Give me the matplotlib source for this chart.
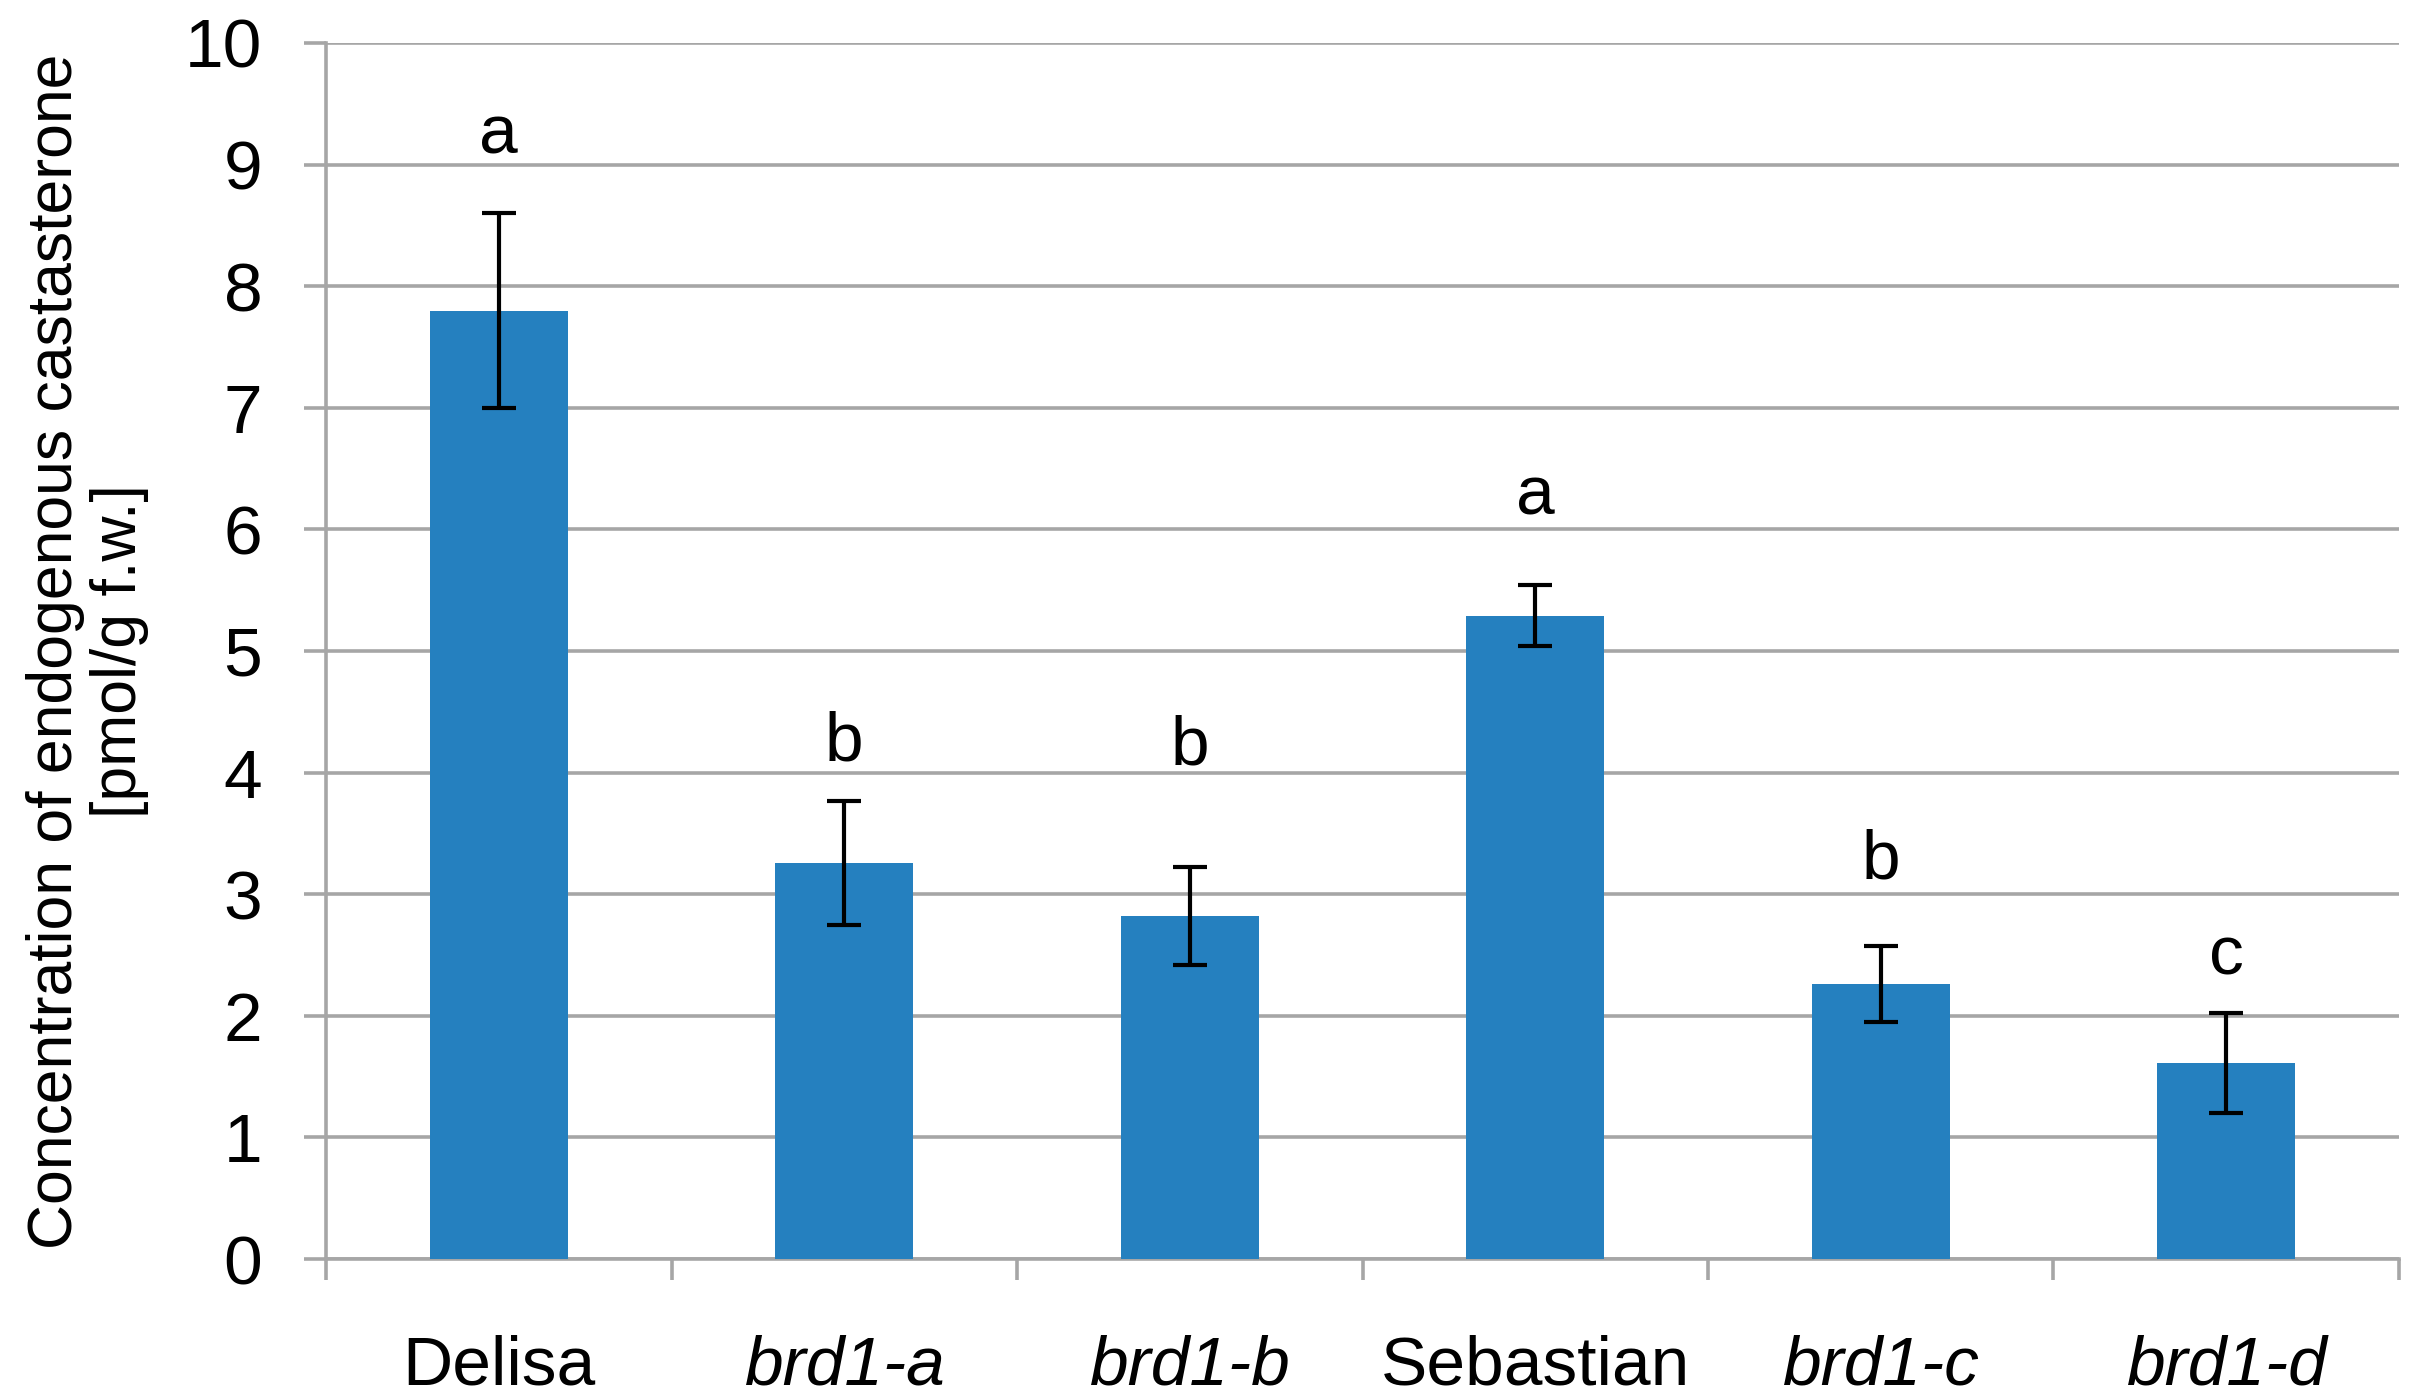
import numpy as np
import matplotlib
matplotlib.use('Agg')
import matplotlib.pyplot as plt

######################### DATA #########################
genotypes = ['Delisa', 'brd1-a', 'brd1-b', 'Sebastian', 'brd1-c', 'brd1-d']
italic = [False, True, True, False, True, True]
castasterone = [7.8, 3.26, 2.82, 5.29, 2.26, 1.61]
errors = [0.80, 0.51, 0.40, 0.25, 0.31, 0.41]
letters = ['a', 'b', 'b', 'a', 'b', 'c']
letter_y = [9.09, 4.10, 4.07, 6.12, 3.13, 2.34]
yticks = list(range(0, 11))

######################### STYLE #########################
plt.rcParams['font.family'] = ['Liberation Sans', 'DejaVu Sans']
barColor = '#2580bf'
gridColor = '#a6a6a6'
sizeOfFont = 50

fig = plt.figure(figsize=(24.12, 14), dpi=100)
ax = fig.add_axes([0.1352, 0.1007, 0.8594, 0.8686])

x = np.arange(len(genotypes))
ax.bar(x, castasterone, width=0.4, color=barColor, zorder=3)
ax.errorbar(x, castasterone, yerr=errors, fmt='none', ecolor='black',
            elinewidth=3, capsize=12, capthick=3, zorder=4)

for xi, lab, ly in zip(x, letters, letter_y):
    ax.text(xi, ly, lab, ha='center', va='baseline', fontsize=sizeOfFont, zorder=5)

ax.set_xlim(-0.5, len(genotypes) - 0.5)
ax.set_ylim(0, 10)
ax.set_yticks(yticks)
ax.yaxis.grid(True, color=gridColor, linewidth=2.6, zorder=0)
ax.set_axisbelow(True)

ax.tick_params(axis='y', length=16, width=2.6, color=gridColor, pad=30,
               labelsize=sizeOfFont)
ax.set_xticks(x)
ax.set_xticklabels(genotypes)
for lbl, it in zip(ax.get_xticklabels(), italic):
    if it:
        lbl.set_style('italic')
ax.set_xticks(np.arange(-0.5, len(genotypes)), minor=True)
ax.tick_params(axis='x', which='major', length=0, pad=54, labelsize=sizeOfFont)
ax.tick_params(axis='x', which='minor', length=15, width=2.6, color=gridColor)

for s in ['top', 'right']:
    ax.spines[s].set_visible(False)
for s in ['left', 'bottom']:
    ax.spines[s].set_color(gridColor)
    ax.spines[s].set_linewidth(2.6)

ax.set_ylabel('Concentration of endogenous castasterone\n[pmol/g f.w.]',
              fontsize=45, labelpad=26, linespacing=1.1)

plt.savefig('out.png', dpi=100)
